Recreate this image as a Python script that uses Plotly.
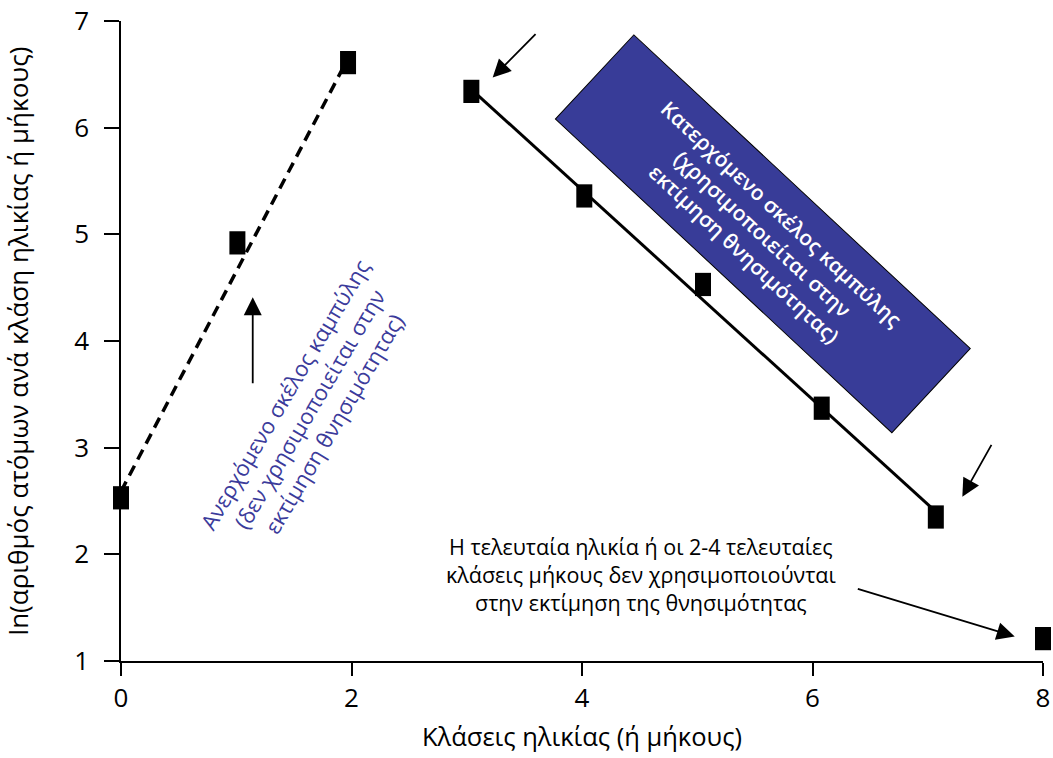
import plotly.graph_objects as go

# Age (or length) classes and ln(number of individuals) per class
age_class = [0.00, 1.01, 1.97, 3.04, 4.02, 5.05, 6.08, 7.07, 8.00]
ln_n = [2.53, 4.92, 6.61, 6.34, 5.36, 4.53, 3.37, 2.35, 1.21]

# Straight lines through the ascending (dashed) and descending (solid) limbs
rise_x = [0.00, 1.97]
rise_y = [2.59, 6.65]
fall_x = [3.04, 7.07]
fall_y = [6.36, 2.40]

x_ticks = [0, 2, 4, 6, 8]
y_ticks = [1, 2, 3, 4, 5, 6, 7]

FONT = "Open Sans"
BLUE_TEXT = "#3b3b9b"
BOX_FILL = "#383c98"

fig = go.Figure()

fig.add_trace(go.Scatter(
    x=rise_x, y=rise_y, mode="lines",
    line=dict(color="black", width=3.5, dash="11px,7px"),
    hoverinfo="skip", cliponaxis=False,
))
fig.add_trace(go.Scatter(
    x=fall_x, y=fall_y, mode="lines",
    line=dict(color="black", width=3),
    hoverinfo="skip", cliponaxis=False,
))
# Tall rectangular markers: a vertical line symbol with a thick stroke
fig.add_trace(go.Scatter(
    x=age_class, y=ln_n, mode="markers",
    marker=dict(symbol="line-ns", size=16.6,
                line=dict(color="black", width=16)),
    cliponaxis=False,
))

annotations = [
    # ascending limb note
    dict(x=1.63, y=3.37, xref="x", yref="y", showarrow=False,
         text="Ανερχόμενο σκέλος καμπύλης<br>(δεν χρησιμοποιείται στην<br>εκτίμηση θνησιμότητας)",
         textangle=-59.4, align="center",
         font=dict(family=FONT, size=22, color=BLUE_TEXT, weight=500)),
    # descending limb note in a rotated box
    dict(x=5.57, y=5.00, xref="x", yref="y", showarrow=False,
         text="Κατερχόμενο σκέλος καμπύλης<br>(χρησιμοποιείται στην<br>εκτίμηση θνησιμότητας)",
         textangle=43, align="center",
         bgcolor=BOX_FILL, bordercolor="black", borderwidth=1, borderpad=0,
         width=459, height=114,
         font=dict(family=FONT, size=21, color="white", weight=600)),
    # note about the last classes
    dict(x=4.51, y=1.81, xref="x", yref="y", showarrow=False,
         text="Η τελευταία ηλικία ή οι 2-4 τελευταίες<br>κλάσεις μήκους δεν χρησιμοποιούνται<br>στην εκτίμηση της θνησιμότητας",
         align="center",
         font=dict(family=FONT, size=21.5, color="black")),
]

# arrows: (head x, head y, tail x, tail y)
arrows = [
    (1.143, 4.41, 1.143, 3.59),
    (3.225, 6.47, 3.61, 6.89),
    (7.30, 2.54, 7.56, 3.04),
    (7.755, 1.23, 6.38, 1.68),
]
for hx, hy, tx, ty in arrows:
    annotations.append(dict(
        x=hx, y=hy, ax=tx, ay=ty, xref="x", yref="y", axref="x", ayref="y",
        text="", showarrow=True, arrowhead=2, arrowsize=2.0, arrowwidth=1.8,
        arrowcolor="black", standoff=0, startstandoff=0,
    ))

fig.update_layout(
    width=1053, height=758,
    margin=dict(l=121, r=10, t=21, b=97),
    paper_bgcolor="white", plot_bgcolor="white",
    showlegend=False,
    font=dict(family=FONT, color="black"),
    annotations=annotations,
)

fig.update_xaxes(
    range=[0, 8], tickvals=x_ticks, ticktext=[str(v) for v in x_ticks],
    automargin=False,
    showgrid=False, zeroline=False,
    showline=True, linecolor="black", linewidth=1.5,
    ticks="outside", ticklen=13, tickwidth=1.5, tickcolor="black",
    tickfont=dict(family=FONT, size=26, color="black"),
    title=dict(text="Κλάσεις ηλικίας (ή μήκους)", standoff=14,
               font=dict(family=FONT, size=25.5, color="black")),
)
fig.update_yaxes(
    range=[1, 7], tickvals=y_ticks, ticktext=[str(v) for v in y_ticks],
    automargin=False,
    showgrid=False, zeroline=False,
    showline=True, linecolor="black", linewidth=1.5,
    ticks="outside", ticklen=15, tickwidth=1.5, tickcolor="black",
    ticklabelstandoff=10,
    tickfont=dict(family=FONT, size=26, color="black"),
    title=dict(text="ln(αριθμός ατόμων ανά κλάση ηλικίας ή μήκους)", standoff=38,
               font=dict(family=FONT, size=26, color="black")),
)

fig.write_html("out.html")
